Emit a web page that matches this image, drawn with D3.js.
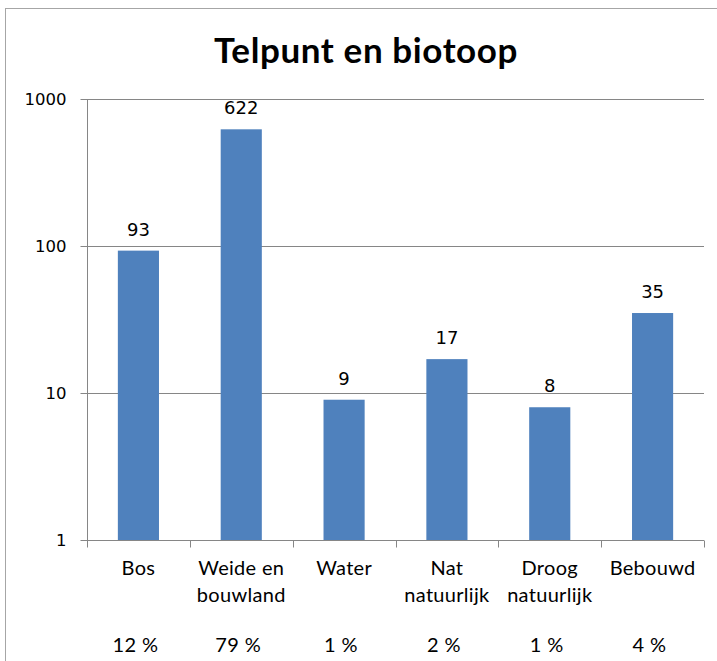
<!DOCTYPE html>
<html>
<head>
<meta charset="utf-8">
<script src="https://cdn.jsdelivr.net/npm/d3@7"></script>
<style>
  body { margin: 0; background: #fff; }
  svg { display: block; }
</style>
</head>
<body>
<div class="chart"></div>
<script>
const categories = [["Bos"], ["Weide en", "bouwland"], ["Water"], ["Nat", "natuurlijk"], ["Droog", "natuurlijk"], ["Bebouwd"]];
const counts = [93, 622, 9, 17, 8, 35];
const percentages = ["12 %", "79 %", "1 %", "2 %", "1 %", "4 %"];
const yTicks = [1, 10, 100, 1000];

const width = 717, height = 661;
const margin = { left: 87, right: 13, top: 99, bottom: 121 };
const labelFont = 'Lato, sans-serif';

const svg = d3.select('.chart').append('svg')
    .attr('width', width)
    .attr('height', height);

// chart frame
svg.append('rect')
    .attr('x', 5.5).attr('y', 8.5)
    .attr('width', width + 20).attr('height', height + 20)
    .attr('fill', 'none').attr('stroke', '#a6a6a6');

svg.append('text')
    .attr('x', 366).attr('y', 63)
    .attr('text-anchor', 'middle')
    .attr('font-family', labelFont)
    .attr('font-weight', 'bold')
    .attr('font-size', 35)
    .attr('letter-spacing', 0.6)
    .text('Telpunt en biotoop');

const xScale = d3.scaleBand()
    .domain(d3.range(categories.length))
    .range([margin.left, width - margin.right])
    .paddingInner(0.6)
    .paddingOuter(0.3);

const yScale = d3.scaleLog()
    .domain([1, 1000])
    .range([height - margin.bottom, margin.top]);

// gridlines
svg.append('g')
    .selectAll('line')
    .data(yTicks.slice(1))
    .enter()
    .append('line')
    .attr('x1', margin.left).attr('x2', width - margin.right)
    .attr('y1', d => Math.round(yScale(d)) + 0.5)
    .attr('y2', d => Math.round(yScale(d)) + 0.5)
    .attr('stroke', '#868686');

// y axis
const yAxis = d3.axisLeft(yScale)
    .tickValues(yTicks)
    .tickFormat(d3.format('d'))
    .tickSize(7)
    .tickPadding(14);

const yG = svg.append('g')
    .attr('transform', `translate(${margin.left + 0.5},0)`)
    .call(yAxis);
yG.selectAll('line').attr('stroke', '#868686');
yG.select('.domain').attr('stroke', '#868686').attr('d', `M0,${yScale(1000)}V${yScale(1)}`);
yG.selectAll('text')
    .attr('font-family', 'DejaVu Sans, sans-serif')
    .attr('font-size', 16.5)
    .attr('fill', '#000');

// bars
svg.append('g')
    .selectAll('rect')
    .data(counts)
    .enter()
    .append('rect')
    .attr('x', (d, i) => xScale(i))
    .attr('y', d => yScale(d))
    .attr('width', xScale.bandwidth())
    .attr('height', d => yScale(1) - yScale(d))
    .attr('fill', '#4f81bd');

// value labels
svg.append('g')
    .selectAll('text')
    .data(counts)
    .enter()
    .append('text')
    .attr('x', (d, i) => xScale(i) + xScale.bandwidth() / 2)
    .attr('y', d => yScale(d) - 15)
    .attr('text-anchor', 'middle')
    .attr('font-family', 'DejaVu Sans, sans-serif')
    .attr('font-size', 18)
    .attr('fill', '#000')
    .text(d => d);

// x axis with category boundary ticks
const y0 = Math.round(yScale(1)) + 0.5;
const start = margin.left;
const span = width - margin.right - start;
svg.append('line')
    .attr('x1', start).attr('x2', width - margin.right)
    .attr('y1', y0).attr('y2', y0)
    .attr('stroke', '#868686');
svg.append('g')
    .selectAll('line')
    .data(d3.range(categories.length + 1))
    .enter()
    .append('line')
    .attr('x1', i => Math.round(start + i * span / categories.length) + 0.5)
    .attr('x2', i => Math.round(start + i * span / categories.length) + 0.5)
    .attr('y1', y0).attr('y2', y0 + 7)
    .attr('stroke', '#868686');

// category labels
const catG = svg.append('g')
    .selectAll('text')
    .data(categories)
    .enter()
    .append('text')
    .attr('text-anchor', 'middle')
    .attr('font-family', labelFont)
    .attr('font-size', 20)
    .attr('letter-spacing', 0.3)
    .attr('fill', '#000');
catG.selectAll('tspan')
    .data((d, i) => d.map(t => ({ t, i })))
    .enter()
    .append('tspan')
    .attr('x', d => xScale(d.i) + xScale.bandwidth() / 2)
    .attr('y', (d, j) => 575 + j * 27)
    .text(d => d.t);

// percentages
svg.append('g')
    .selectAll('text')
    .data(percentages)
    .enter()
    .append('text')
    .attr('x', (d, i) => xScale(i) + xScale.bandwidth() / 2 - 3)
    .attr('y', 652)
    .attr('text-anchor', 'middle')
    .attr('font-family', labelFont)
    .attr('font-size', 20)
    .attr('letter-spacing', 0.4)
    .attr('fill', '#000')
    .text(d => d);
</script>
</body>
</html>
